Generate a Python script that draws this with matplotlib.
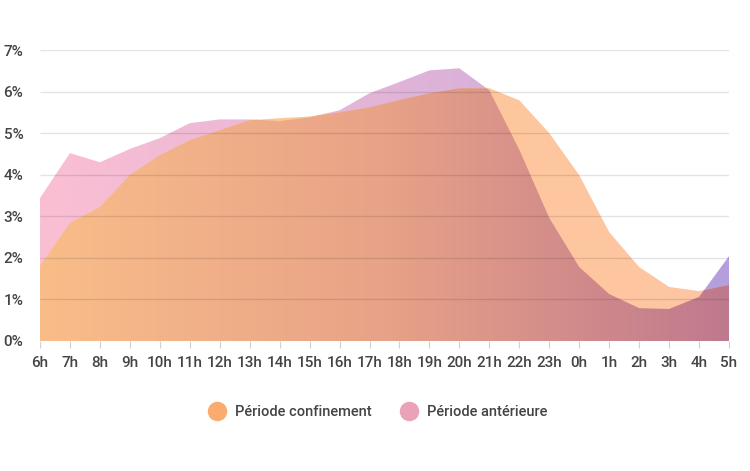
import numpy as np
import matplotlib
matplotlib.use('Agg')
import matplotlib.pyplot as plt
from matplotlib.colors import LinearSegmentedColormap
from matplotlib.lines import Line2D

# Heures et parts d'activité (%)
heures = ['6h', '7h', '8h', '9h', '10h', '11h', '12h', '13h', '14h', '15h', '16h', '17h',
          '18h', '19h', '20h', '21h', '22h', '23h', '0h', '1h', '2h', '3h', '4h', '5h']
confinement = [1.80, 2.84, 3.22, 3.99, 4.47, 4.83, 5.07, 5.31, 5.36, 5.40, 5.50, 5.62,
               5.80, 5.96, 6.08, 6.08, 5.79, 5.00, 3.99, 2.62, 1.78, 1.30, 1.20, 1.35]
anterieure = [3.44, 4.52, 4.30, 4.62, 4.88, 5.24, 5.33, 5.33, 5.29, 5.38, 5.55, 5.96,
              6.23, 6.51, 6.56, 6.03, 4.60, 2.96, 1.78, 1.13, 0.79, 0.77, 1.06, 2.04]

plt.rcParams['font.family'] = ['Roboto', 'DejaVu Sans']

x = np.arange(len(heures))
fig = plt.figure(figsize=(7.5, 4.71), dpi=100)
ax = fig.add_axes([40 / 750, 1 - 341 / 471, 689 / 750, 291 / 471])
ax.set_xlim(0, len(heures) - 1)
ax.set_ylim(0, 7)


def degrade(ax, xs, ys, couleurs, z):
    poly = ax.fill_between(xs, 0, ys, color='none', lw=0)
    cmap = LinearSegmentedColormap.from_list('d', couleurs)
    img = np.linspace(0, 1, 256)[None, :]
    im = ax.imshow(img, cmap=cmap, extent=[0, len(heures) - 1, 0, 7], aspect='auto',
                   origin='lower', zorder=z, interpolation='bilinear')
    im.set_clip_path(poly.get_paths()[0], transform=ax.transData)
    return im


degrade(ax, x, anterieure, [(0, '#fbbfd3'), (0.6, '#dcb2da'), (1, '#b39fde')], 1)
degrade(ax, x, confinement, ['#fdcb92', '#fdc5a3'], 2)

# zone de recouvrement
xf = np.linspace(0, len(heures) - 1, 2301)
bas = np.minimum(np.interp(xf, x, anterieure), np.interp(xf, x, confinement))
degrade(ax, xf, bas, [(0, '#f9bd89'), (0.5, '#e8a287'), (1, '#bf798e')], 3)

ax.hlines(range(1, 8), 0, len(heures) - 1, color='black', alpha=0.11, lw=1, zorder=5)

ax.set_xticks(x)
ax.set_xticklabels(heures)
ax.set_yticks(range(8))
ax.set_yticklabels([f'{v}%' for v in range(8)])
for s in ['top', 'right', 'left', 'bottom']:
    ax.spines[s].set_visible(False)
ax.tick_params(axis='x', length=5, color='#d0d0d0', pad=6, labelsize=11, labelcolor='#444444')
ax.tick_params(axis='y', length=0, pad=12, labelsize=11, labelcolor='#444444')
for lab in ax.get_xticklabels() + ax.get_yticklabels():
    lab.set_fontweight('medium')

handles = [Line2D([], [], marker='o', ls='', ms=13, color='#fbab6d'),
           Line2D([], [], marker='o', ls='', ms=13, color='#e9a2b6')]
leg = fig.legend(handles, ['Période confinement', 'Période antérieure'], loc='center',
                 bbox_to_anchor=(0.5, 1 - 412 / 471), ncol=2, frameon=False, fontsize=10.5,
                 labelcolor='#444444', handletextpad=0.2, columnspacing=1.6)
for t in leg.get_texts():
    t.set_fontweight('medium')

fig.savefig('out.png', dpi=100)
